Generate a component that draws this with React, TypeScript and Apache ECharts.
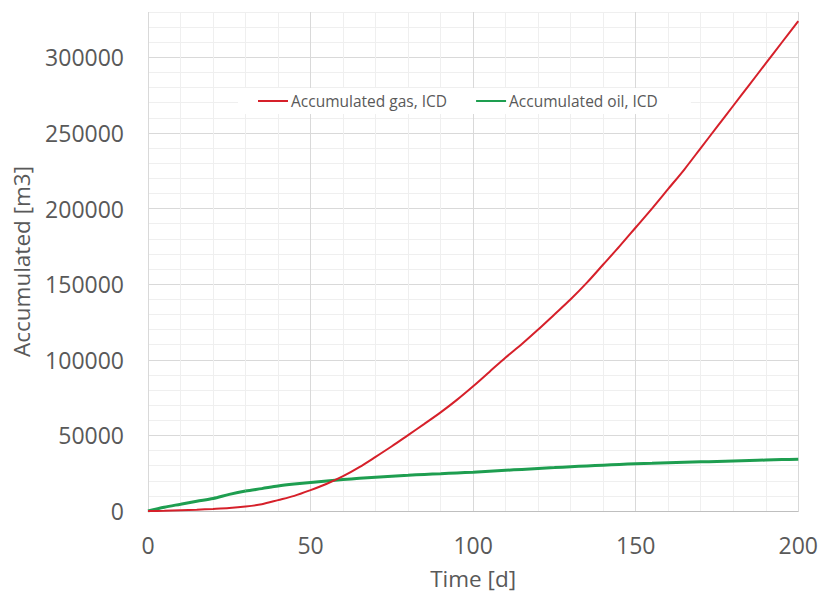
import React, { useEffect, useRef } from "react";
import * as echarts from "echarts";

const times = [0, 5, 10, 15, 20, 25, 30, 35, 40, 45, 50, 55, 60, 65, 70, 75, 80, 85, 90, 95, 100, 105, 110, 115, 120, 125, 130, 135, 140, 145, 150, 155, 160, 165, 170, 175, 180, 185, 190, 195, 200];
const gas = [0, 150, 500, 900, 1400, 2000, 3000, 4500, 7200, 10000, 13800, 18000, 23000, 29000, 35800, 42800, 50200, 57600, 65200, 73500, 82500, 92000, 101500, 110500, 120000, 130000, 140000, 151000, 163000, 175000, 187500, 200000, 213000, 226000, 240000, 254000, 268000, 282000, 296000, 310000, 324000];
const oil = [0, 2500, 4500, 6500, 8300, 11000, 13200, 14800, 16500, 17800, 18900, 19900, 20800, 21600, 22300, 23000, 23600, 24200, 24700, 25200, 25700, 26300, 26900, 27500, 28100, 28700, 29300, 29800, 30300, 30800, 31300, 31600, 31900, 32200, 32500, 32800, 33100, 33400, 33700, 34000, 34300];
const seriesNames = ["Accumulated gas, ICD", "Accumulated oil, ICD"];
const xName = "Time [d]";
const yName = "Accumulated [m3]";

const FONT = "'Open Sans', sans-serif";
const TXT = "#595959";
const gridColors = ["#d9d9d9", "#efefef", "#efefef", "#efefef", "#efefef"];

export default function App() {
  const ref = useRef<HTMLDivElement>(null);
  useEffect(() => {
    if (!ref.current) return;
    const chart = echarts.init(ref.current, null, { renderer: "svg" });
    chart.setOption({
      animation: false,
      backgroundColor: "#ffffff",
      textStyle: { fontFamily: FONT },
      grid: { left: 148, right: 20, top: 12, bottom: 83 },
      legend: {
        data: seriesNames,
        left: 238,
        top: 88,
        backgroundColor: "#ffffff",
        padding: [5, 33, 5, 19],
        itemWidth: 30,
        itemHeight: 14,
        itemGap: 28,
        itemStyle: { opacity: 0 },
        textStyle: { color: TXT, fontSize: 15.5, fontFamily: FONT, padding: [0, 0, 0, -2] },
      },
      xAxis: {
        type: "value",
        min: 0,
        max: 200,
        interval: 10,
        name: xName,
        nameLocation: "middle",
        nameGap: 56,
        nameTextStyle: { color: TXT, fontSize: 22.5, fontFamily: FONT },
        axisLine: { show: true, lineStyle: { color: "#bfbfbf", width: 1 } },
        axisTick: { show: false },
        axisLabel: {
          color: TXT,
          fontSize: 23,
          fontFamily: FONT,
          margin: 22,
          formatter: (v: number) => (v % 50 === 0 ? String(v) : ""),
        },
        splitLine: { show: true, lineStyle: { color: gridColors, width: 1 } },
      },
      yAxis: {
        type: "value",
        min: 0,
        max: 330000,
        interval: 10000,
        name: yName,
        nameLocation: "middle",
        nameGap: 115,
        nameTextStyle: { color: TXT, fontSize: 22.5, fontFamily: FONT },
        axisLine: { show: false },
        axisTick: { show: false },
        axisLabel: {
          color: TXT,
          fontSize: 23,
          fontFamily: FONT,
          margin: 24,
          formatter: (v: number) => (v % 50000 === 0 ? String(v) : ""),
        },
        splitLine: { show: true, lineStyle: { color: gridColors, width: 1 } },
      },
      series: [
        {
          name: seriesNames[0],
          type: "line",
          data: times.map((t, i) => [t, gas[i]]),
          showSymbol: false,
          symbol: "none",
          smooth: 0.3,
          lineStyle: { color: "#d6202a", width: 2 },
          itemStyle: { color: "#d6202a" },
          z: 3,
        },
        {
          name: seriesNames[1],
          type: "line",
          data: times.map((t, i) => [t, oil[i]]),
          showSymbol: false,
          symbol: "none",
          smooth: 0.3,
          lineStyle: { color: "#1e9e50", width: 3 },
          itemStyle: { color: "#1e9e50" },
          z: 2,
        },
      ],
    });
    return () => chart.dispose();
  }, []);
  return <div ref={ref} style={{ width: 821, height: 595, position: "absolute", left: 0, top: 0 }} />;
}
